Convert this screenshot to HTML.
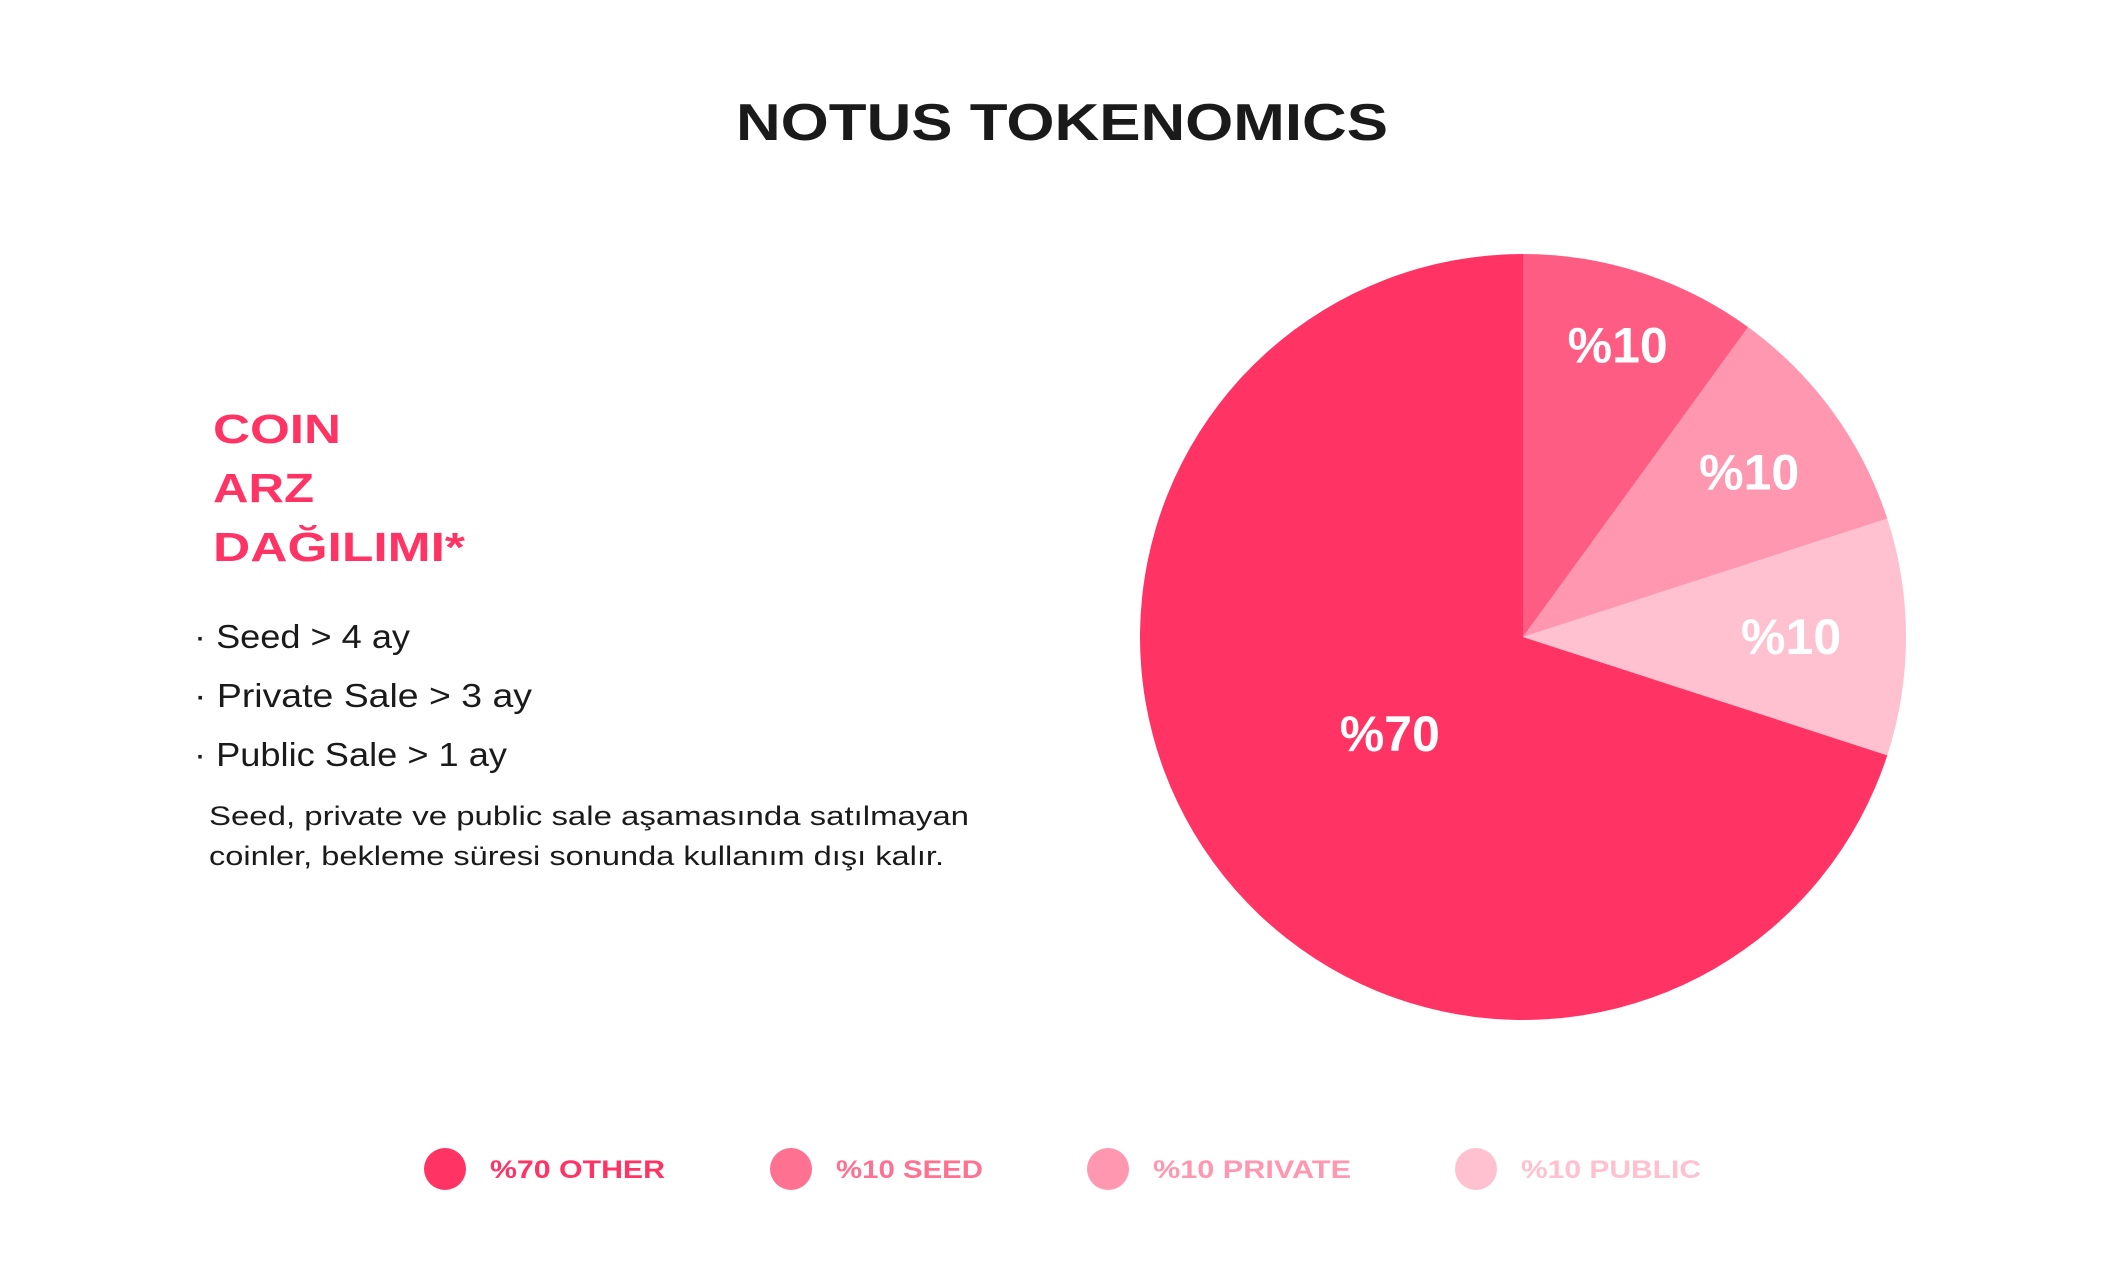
<!DOCTYPE html>
<html><head><meta charset="utf-8"><style>
html,body{margin:0;padding:0;background:#fff;}
svg{display:block;font-family:"Liberation Sans",sans-serif;}
</style></head><body>
<svg id="chart" width="2127" height="1276" viewBox="0 0 2127 1276">
<text x="1062" y="140" text-anchor="middle" font-size="52" font-weight="bold" fill="#1a1a1a" textLength="652" lengthAdjust="spacingAndGlyphs">NOTUS TOKENOMICS</text>
<g fill="#ff3465" font-weight="bold" font-size="41">
<text x="213" y="443" textLength="128" lengthAdjust="spacingAndGlyphs">COIN</text>
<text x="213" y="502" textLength="101" lengthAdjust="spacingAndGlyphs">ARZ</text>
<text x="213" y="561" textLength="252" lengthAdjust="spacingAndGlyphs">DAĞILIMI*</text>
</g>
<g fill="#1a1a1a" font-size="33">
<text x="194" y="648" textLength="216" lengthAdjust="spacingAndGlyphs">· Seed &gt; 4 ay</text>
<text x="194" y="707" textLength="338" lengthAdjust="spacingAndGlyphs">· Private Sale &gt; 3 ay</text>
<text x="194" y="766" textLength="313" lengthAdjust="spacingAndGlyphs">· Public Sale &gt; 1 ay</text>
</g>
<g fill="#1a1a1a" font-size="27">
<text x="209" y="825" textLength="760" lengthAdjust="spacingAndGlyphs">Seed, private ve public sale aşamasında satılmayan</text>
<text x="209" y="865" textLength="735" lengthAdjust="spacingAndGlyphs">coinler, bekleme süresi sonunda kullanım dışı kalır.</text>
</g>
<g id="pie"></g>
<g id="legend"></g>
</svg>
<script>
const categories = ["SEED", "PRIVATE", "PUBLIC", "OTHER"];
const values = [10, 10, 10, 70];
const labels = ["%10", "%10", "%10", "%70"];
const legendLabels = ["%70 OTHER", "%10 SEED", "%10 PRIVATE", "%10 PUBLIC"];

const ns = "http://www.w3.org/2000/svg";
const colors = ["#ff5c84", "#ff97b0", "#ffc1cf", "#ff3465"];
const labelR = [0.80, 0.73, 0.70, 0.43];
const cx = 1523, cy = 637, R = 383;
const pie = document.getElementById("pie");
const total = values.reduce((a, b) => a + b, 0);
let acc = 0;
function pt(a, r) { return [cx + r * Math.sin(a), cy - r * Math.cos(a)]; }
values.forEach((v, i) => {
  const a0 = acc / total * 2 * Math.PI;
  acc += v;
  const a1 = acc / total * 2 * Math.PI;
  const p0 = pt(a0, R), p1 = pt(a1, R);
  const large = (a1 - a0) > Math.PI ? 1 : 0;
  const path = document.createElementNS(ns, "path");
  path.setAttribute("d", `M${cx},${cy} L${p0[0]},${p0[1]} A${R},${R} 0 ${large} 1 ${p1[0]},${p1[1]} Z`);
  path.setAttribute("fill", colors[i]);
  
  
  pie.appendChild(path);
  const am = (a0 + a1) / 2;
  const lp = pt(am, R * labelR[i]);
  const t = document.createElementNS(ns, "text");
  t.setAttribute("x", lp[0]);
  t.setAttribute("y", lp[1] + 17);
  t.setAttribute("text-anchor", "middle");
  t.setAttribute("font-size", "50");
  t.setAttribute("font-weight", "bold");
  t.setAttribute("fill", "#fff");
  t.textContent = labels[i];
  
  
  pie.appendChild(t);
});
const legend = document.getElementById("legend");
const legColors = ["#ff3465", "#ff7191", "#ff97b0", "#ffc1cf"];
const legX = [445, 791, 1108, 1476];
const legW = [175, 147, 198, 180];
legendLabels.forEach((l, i) => {
  const c = document.createElementNS(ns, "circle");
  c.setAttribute("cx", legX[i]); c.setAttribute("cy", 1169); c.setAttribute("r", 21);
  c.setAttribute("fill", legColors[i]);
  
  
  legend.appendChild(c);
  const t = document.createElementNS(ns, "text");
  t.setAttribute("x", legX[i] + 45); t.setAttribute("y", 1178);
  t.setAttribute("font-size", "25"); t.setAttribute("font-weight", "bold");
  t.setAttribute("fill", legColors[i]);
  t.setAttribute("textLength", legW[i]); t.setAttribute("lengthAdjust", "spacingAndGlyphs");
  t.textContent = l;
  
  
  legend.appendChild(t);
});
</script>
</body></html>
